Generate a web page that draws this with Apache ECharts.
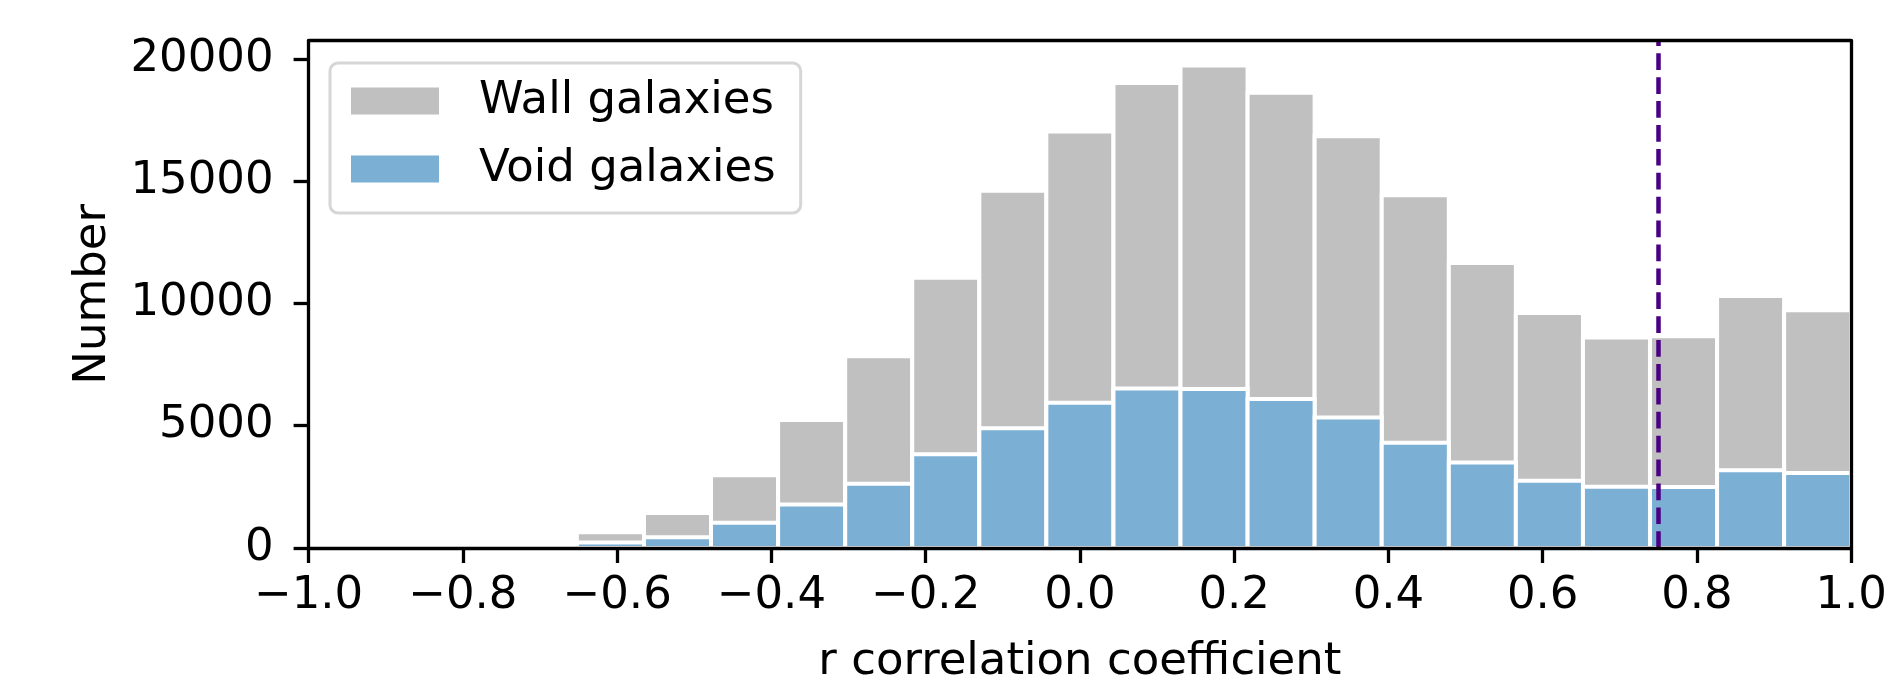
<!DOCTYPE html>
<html>
<head>
<meta charset="utf-8">
<script src="https://cdn.jsdelivr.net/npm/echarts@6/dist/echarts.min.js"></script>
<style>
html,body{margin:0;padding:0;background:#fff;}
#chart{width:1890px;height:690px;}
</style>
</head>
<body>
<div id="chart"></div>
<script>
// Histogram bin edges (23 bins from -1 to 1)
var binEdges = [-1.0, -0.9130, -0.8261, -0.7391, -0.6522, -0.5652, -0.4783, -0.3913, -0.3043, -0.2174, -0.1304, -0.0435,
                0.0435, 0.1304, 0.2174, 0.3043, 0.3913, 0.4783, 0.5652, 0.6522, 0.7391, 0.8261, 0.9130, 1.0];
// Bar heights
var wallCounts = [0, 0, 0, 0, 640, 1430, 2980, 5230, 7840, 11050, 14610, 17030, 19020, 19730, 18620, 16840, 14420, 11650, 9610, 8610, 8660, 10300, 9720];
var voidCounts = [0, 0, 0, 0, 230, 440, 1030, 1780, 2630, 3830, 4900, 5940, 6520, 6500, 6090, 5340, 4300, 3500, 2750, 2500, 2490, 3180, 3070];
var seriesNames = ['Wall galaxies', 'Void galaxies'];
var xTicks = [-1.0, -0.8, -0.6, -0.4, -0.2, 0.0, 0.2, 0.4, 0.6, 0.8, 1.0];
var yTicks = [0, 5000, 10000, 15000, 20000];
var cutValue = 0.75;
var yMax = 20745;

function toRows(counts) {
  var rows = [];
  for (var i = 0; i < counts.length; i++) {
    if (counts[i] > 0) rows.push([binEdges[i], binEdges[i + 1], counts[i]]);
  }
  return rows;
}

function renderBar(params, api) {
  var p0 = api.coord([api.value(0), 0]);
  var p1 = api.coord([api.value(1), api.value(2)]);
  return {
    type: 'rect',
    shape: { x: p0[0], y: p1[1], width: p1[0] - p0[0], height: p0[1] - p1[1] },
    style: { fill: api.visual('color'), stroke: '#ffffff', lineWidth: 4 }
  };
}

var FONT = 'DejaVu Sans';
var AX = { color: '#000', width: 3.3 };
var chart = echarts.init(document.getElementById('chart'), null, { renderer: 'canvas' });
chart.setOption({
  animation: false,
  backgroundColor: '#ffffff',
  textStyle: { fontFamily: FONT },
  grid: { left: 308.6, right: 38.4, top: 40.7, bottom: 140, show: false },
  legend: {
    orient: 'vertical', left: 330, top: 63,
    padding: [12, 25, 18, 21],
    itemWidth: 88, itemHeight: 27, itemGap: 16,
    icon: 'rect',
    backgroundColor: 'rgba(255,255,255,0.8)',
    borderColor: '#d6d6d6', borderWidth: 3, borderRadius: 8,
    textStyle: { fontFamily: FONT, fontSize: 45, color: '#000', lineHeight: 52, padding: [0, 0, 0, 35] },
    data: seriesNames
  },
  xAxis: [{
    type: 'value', min: -1, max: 1, interval: 0.2, position: 'bottom', z: 10,
    name: 'r correlation coefficient', nameLocation: 'middle', nameGap: 92,
    nameTextStyle: { fontFamily: FONT, fontSize: 45, color: '#000' },
    axisLine: { show: true, onZero: false, lineStyle: AX },
    axisTick: { show: true, length: 15, lineStyle: AX, customValues: xTicks },
    axisLabel: {
      fontFamily: FONT, fontSize: 45, color: '#000', margin: 26, customValues: xTicks,
      formatter: function (v) { return (v < -1e-9 ? '\u2212' : '') + Math.abs(v).toFixed(1); }
    },
    splitLine: { show: false }
  }, {
    type: 'value', min: -1, max: 1, position: 'top', z: 10,
    axisLine: { show: true, onZero: false, lineStyle: AX },
    axisTick: { show: false }, axisLabel: { show: false }, splitLine: { show: false }
  }],
  yAxis: [{
    type: 'value', min: 0, max: yMax, interval: 5000, position: 'left', z: 10,
    name: 'Number', nameLocation: 'middle', nameGap: 193,
    nameTextStyle: { fontFamily: FONT, fontSize: 45, color: '#000' },
    axisLine: { show: true, onZero: false, lineStyle: AX },
    axisTick: { show: true, length: 15, lineStyle: AX, customValues: yTicks },
    axisLabel: { fontFamily: FONT, fontSize: 45, color: '#000', margin: 35, customValues: yTicks,
      formatter: function (v) { return String(Math.round(v)); } },
    splitLine: { show: false }
  }, {
    type: 'value', min: 0, max: yMax, position: 'right', z: 10,
    axisLine: { show: true, onZero: false, lineStyle: AX },
    axisTick: { show: false }, axisLabel: { show: false }, splitLine: { show: false }
  }],
  series: [
    {
      name: seriesNames[0], type: 'custom', renderItem: renderBar,
      itemStyle: { color: '#c0c0c0' },
      encode: { x: [0, 1], y: 2 },
      data: toRows(wallCounts), z: 2
    },
    {
      name: seriesNames[1], type: 'custom', renderItem: renderBar,
      itemStyle: { color: '#7bafd4' },
      encode: { x: [0, 1], y: 2 },
      data: toRows(voidCounts), z: 3,
      markLine: {
        silent: true, symbol: ['none', 'none'], label: { show: false },
        lineStyle: { color: '#4b0082', width: 4.5, type: [16.7, 7.2] },
        data: [{ xAxis: cutValue }], z: 8
      }
    }
  ]
});
</script>
</body>
</html>
